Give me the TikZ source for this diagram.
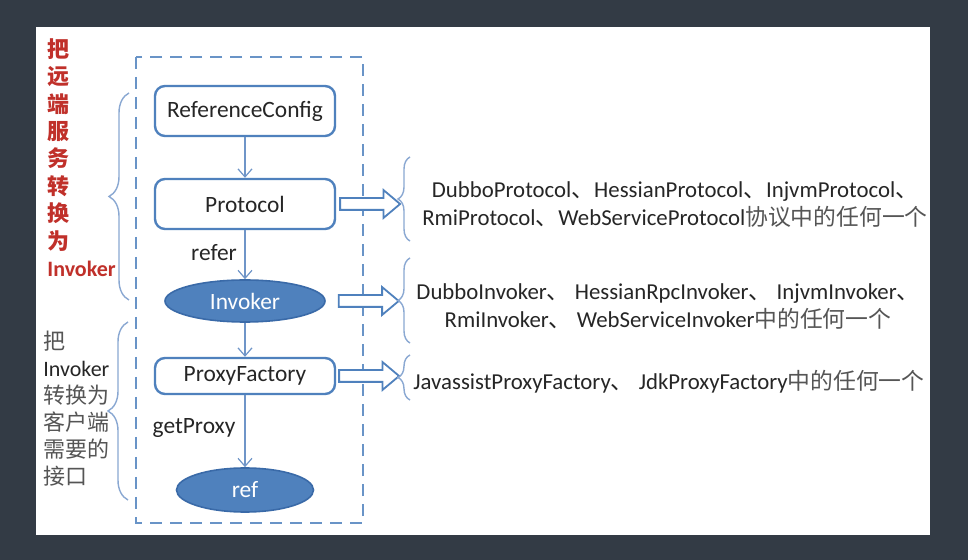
\documentclass[tikz,border=0pt]{standalone}
\usepackage{fontspec}
\setmainfont{Carlito}
\newfontfamily\cjk{Noto Sans CJK SC}
\usetikzlibrary{arrows.meta,positioning,calc,shapes.geometric,shapes.arrows,decorations.pathreplacing}
\definecolor{office}{HTML}{4F81BD}
\definecolor{deepblue}{HTML}{3A6AA8}
\definecolor{lineblue}{HTML}{6F95C8}
\definecolor{bracecol}{HTML}{8AA8D2}
\definecolor{slidebg}{HTML}{333B45}
\definecolor{ink}{HTML}{262626}
\definecolor{redtxt}{HTML}{C0302A}
\definecolor{hanzi}{HTML}{555555}
\tikzset{stepbox/.style={draw=office,line width=1.2pt,rounded corners=5pt,fill=white,font=\fontsize{11.7}{13}\selectfont,text=ink,minimum width=90pt,minimum height=25pt},oval/.style={ellipse,draw=deepblue,line width=0.8pt,fill=office,text=white,font=\fontsize{11.7}{13}\selectfont,inner sep=0pt},arr/.style={-{Straight Barb[length=4pt,width=7pt]},draw=lineblue,line width=0.6pt},bigarr/.style={single arrow,draw=office,fill=white,line width=0.9pt,minimum height=30pt,single arrow head extend=4pt,single arrow tip angle=80,inner sep=2.5pt},note/.style={font=\fontsize{11.4}{14}\selectfont,text=ink,align=center,inner sep=0pt},brc/.style={draw=bracecol,line width=0.7pt,decorate}}

\begin{document}
\begin{tikzpicture}[x=0.5pt,y=-0.5pt]
\fill[slidebg] (0,0) rectangle (968,560);
\fill[white] (36,27) rectangle (930,535);
\draw[office!85,line width=1.3pt,dash pattern=on 6pt off 4pt] (136,57) rectangle (363,523);
% chain of steps
\node[stepbox] (rc) at (245,111) {ReferenceConfig};
\node[stepbox] (proto) at (245,204) {Protocol};
\node[oval,minimum width=80pt,minimum height=21pt] (inv) at (245,301) {Invoker};
\node[stepbox,minimum height=18pt] (pf) at (245,376) {ProxyFactory};
\node[oval,minimum width=68.5pt,minimum height=22pt] (ref) at (245,490) {ref};
\node[note,font=\fontsize{11.7}{14}\selectfont] (referlbl) at (214,253) {refer};
\node[note,font=\fontsize{11.7}{14}\selectfont] (gplbl) at (194,428) {getProxy};
\draw[arr] (rc.south)--(proto.north);
\draw[arr] (proto.south)--(inv.north);
\draw[arr] (inv.south)--(pf.north);
\draw[arr] (pf.south)--(ref.north);
% implementations
\node[bigarr,right=1.5pt of proto] (ap) {};
\node[bigarr,right=6pt of inv] (ai) {};
\node[bigarr,right=1pt of pf] (af) {};
\draw[brc,decoration={brace,amplitude=6pt}] (410,241)--(410,157);
\draw[brc,decoration={brace,amplitude=6pt}] (410,343)--(410,258);
\draw[brc,decoration={brace,amplitude=6pt}] (410,400)--(410,355);
\node[note] (t1) at (675,205) {DubboProtocol{\cjk 、}HessianProtocol{\cjk 、}InjvmProtocol{\cjk 、}\\RmiProtocol{\cjk 、}WebServiceProtocol{\cjk\color{hanzi}协议中的任何一个}};
\node[note] (t2) at (668,306) {DubboInvoker{\cjk 、} HessianRpcInvoker{\cjk 、} InjvmInvoker{\cjk 、}\\RmiInvoker{\cjk 、} WebServiceInvoker{\cjk\color{hanzi}中的任何一个}};
\node[note,anchor=west] (t3) at (413,382) {JavassistProxyFactory{\cjk 、} JdkProxyFactory{\cjk\color{hanzi}中的任何一个}};
% left side captions
\draw[brc,decoration={brace,amplitude=10pt}] (129,300)--(129,93);
\draw[brc,decoration={brace,amplitude=10pt}] (128,500)--(128,322);
\node[anchor=north west,align=left,inner sep=0pt,text=redtxt,font={\fontsize{11}{13.7}\selectfont\cjk\bfseries}] (upcap) at (47,38) {把\\远\\端\\服\\务\\转\\换\\为\\{\rmfamily\bfseries Invoker}};
\node[anchor=north west,align=left,inner sep=0pt,text=hanzi,font={\fontsize{11}{13.5}\selectfont\cjk}] (lowcap) at (43,331) {把\\{\rmfamily\color{ink}Invoker}\\转换为\\客户端\\需要的\\接口};
\end{tikzpicture}
\end{document}
